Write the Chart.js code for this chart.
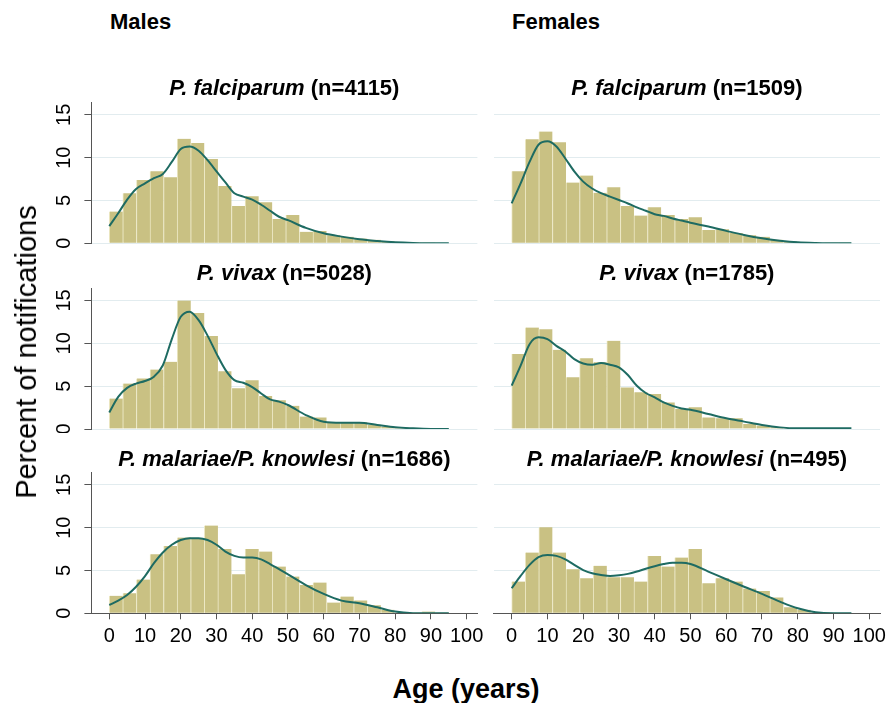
<!DOCTYPE html>
<html lang="en">
<head>
<meta charset="UTF-8">
<title>Age distribution of malaria notifications by sex and species</title>
<script src="https://cdn.jsdelivr.net/npm/chart.js@4.4.1/dist/chart.umd.min.js"></script>
<style>
  body { margin: 0; background: #fff; width: 886px; height: 703px; position: relative; overflow: hidden;
         font-family: "Liberation Sans", Arial, sans-serif; color: #000; }
  .txt { position: absolute; white-space: nowrap; }
  .head { font-size: 22px; font-weight: bold; }
  .ptitle { font-size: 22px; font-weight: bold; text-align: center; line-height: 26px; }
</style>
</head>
<body>
<script>
// ---- data ----
const xTicks = [0, 10, 20, 30, 40, 50, 60, 70, 80, 90, 100];
const yTicks = [0, 5, 10, 15];
const sexes = ['Males', 'Females'];
const species = ['P. falciparum', 'P. vivax', 'P. malariae/P. knowlesi'];
const maleN = [4115, 5028, 1686];
const femaleN = [1509, 1785, 495];

// histogram bins, 3.8 years wide starting at 0
const binCenters = [1.9, 5.7, 9.5, 13.3, 17.1, 20.9, 24.7, 28.5, 32.3, 36.1, 39.9, 43.7, 47.5,
                    51.3, 55.1, 58.9, 62.7, 66.5, 70.3, 74.1, 77.9, 81.7, 85.5, 89.3, 93.1];
const maleFalcBars = [3.7, 5.85, 7.4, 8.4, 7.7, 12.2, 11.7, 9.85, 6.7, 4.35, 5.5, 4.8, 2.85,
                      3.3, 1.35, 1.45, 0.95, 0.75, 0.55, 0.4, 0.25, 0.15, 0.1, 0.08, 0.05];
const femFalcBars = [8.4, 12.15, 13.05, 11.8, 7.1, 7.9, 5.9, 6.55, 4.35, 3.25, 4.2, 3.3, 2.85,
                     3.05, 1.55, 1.65, 1.2, 0.95, 0.75, 0.4, 0.2, 0.1, 0.05, 0.03, 0.02];
const maleVivBars = [3.55, 5.3, 5.9, 6.95, 7.85, 15.0, 13.55, 10.85, 6.75, 4.75, 5.7, 3.85, 3.35,
                     2.7, 1.45, 1.35, 0.78, 0.78, 0.78, 0.47, 0.27, 0.15, 0.1, 0.08, 0.04];
const femVivBars = [8.75, 11.85, 11.65, 9.25, 6.05, 8.25, 7.8, 10.3, 4.85, 4.3, 4.1, 3.1, 2.35,
                    2.55, 1.35, 1.25, 1.25, 0.58, 0.4, 0.2, 0.08, 0.08, 0.08, 0.03, 0.05];
const maleMalBars = [2.05, 2.35, 3.95, 6.9, 7.85, 8.85, 8.75, 10.25, 7.5, 4.55, 7.5, 7.2, 5.45,
                     4.3, 3.3, 3.6, 1.25, 1.95, 1.5, 0.95, 0.4, 0.08, 0.08, 0.2, 0.08];
const femMalBars = [3.7, 7.1, 10.05, 7.1, 5.15, 4.1, 5.55, 4.2, 4.2, 3.7, 6.7, 5.45, 6.5,
                    7.5, 3.5, 4.1, 3.7, 2.9, 2.6, 1.85, 0.7, 0.4, 0.08, 0.04, 0];

// kernel density curves (percent scale)
const curveAges = [0, 2.5, 5, 7.5, 10, 12.5, 15, 17.5, 20, 22.5, 25, 27.5, 30, 32.5, 35, 37.5,
                   40, 42.5, 45, 47.5, 50, 55, 60, 65, 70, 75, 80, 85, 90, 95];
const maleFalcCurve = [2.0, 3.5, 5.1, 6.35, 7.0, 7.6, 8.1, 9.5, 11.0, 11.3, 10.8, 9.7, 8.4, 7.1, 5.85,
                       5.45, 5.1, 4.5, 3.8, 3.1, 2.7, 1.8, 1.17, 0.78, 0.47, 0.27, 0.12, 0.04, 0.01, 0];
const femFalcCurve = [4.67, 7.0, 9.5, 11.5, 11.9, 11.3, 9.9, 8.4, 7.2, 6.4, 5.85, 5.45, 5.05, 4.65, 4.2,
                      3.8, 3.4, 3.2, 2.9, 2.65, 2.4, 1.95, 1.45, 0.97, 0.58, 0.31, 0.12, 0.04, 0.01, 0];
const maleVivCurve = [1.94, 3.76, 4.8, 5.3, 5.6, 6.1, 7.44, 10.5, 13.1, 13.7, 12.7, 10.9, 8.8, 6.9, 5.7,
                      5.4, 4.9, 4.15, 3.45, 3.2, 2.8, 1.63, 0.85, 0.74, 0.74, 0.47, 0.2, 0.08, 0.01, 0];
const femVivCurve = [5.06, 7.4, 9.9, 10.7, 10.5, 9.7, 9.05, 8.15, 7.65, 7.5, 7.7, 7.5, 7.2, 6.3, 5.05,
                     4.2, 3.7, 3.1, 2.7, 2.4, 2.25, 1.75, 1.25, 0.86, 0.47, 0.19, 0.08, 0.08, 0.08, 0.08];
const maleMalCurve = [0.97, 1.48, 2.14, 3.1, 4.35, 5.85, 7.1, 8.0, 8.55, 8.77, 8.77, 8.55, 8.0, 7.2, 6.7,
                      6.5, 6.5, 6.3, 5.75, 5.15, 4.55, 3.3, 2.26, 1.48, 1.17, 0.7, 0.2, 0.02, 0, 0];
const femMalCurve = [2.92, 4.36, 5.65, 6.55, 6.8, 6.7, 6.3, 5.65, 5.05, 4.67, 4.48, 4.36, 4.44, 4.6, 4.87,
                     5.2, 5.5, 5.75, 5.9, 5.9, 5.75, 4.87, 3.97, 3.1, 2.26, 1.36, 0.58, 0.12, 0, 0];

// ---- look ----
const FONT = '"Liberation Sans", Arial, sans-serif';
const BAR = '#c9c183';
const BAR_EDGE = '#ece8c4';
const CURVE = '#1e6b62';
const GRID = '#e2ecef';
const AXIS = '#555555';

// panel placement (page pixels)
const rows = [
  { divTop: 92, chartTop: 102.8, chartBottom: 243.3, titleY: 88 },
  { divTop: 278, chartTop: 288.5, chartBottom: 429, titleY: 273 },
  { divTop: 462, chartTop: 472.8, chartBottom: 613.3, titleY: 459 }
];
const cols = [
  { divLeft: 0, divWidth: 490, chartLeft: 91.4, chartRight: 477.4, headX: 110 },
  { divLeft: 480, divWidth: 406, chartLeft: 493.8, chartRight: 880, headX: 512 }
];

Chart.defaults.font.family = FONT;

function addText(html, cls, css) {
  const d = document.createElement('div');
  d.className = 'txt ' + cls;
  d.innerHTML = html;
  d.style.cssText = css;
  document.body.appendChild(d);
  return d;
}

function makePanel(r, c, bars, curve) {
  const R = rows[r], C = cols[c];
  const bottomRow = r === rows.length - 1;
  const leftCol = c === 0;
  const xAxisH = bottomRow ? 40 : 0;
  const divH = bottomRow ? 200 : Math.ceil(R.chartBottom - R.divTop + 4);

  const wrap = document.createElement('div');
  wrap.style.cssText = `position:absolute;left:${C.divLeft}px;top:${R.divTop}px;width:${C.divWidth}px;height:${divH}px;`;
  const cv = document.createElement('canvas');
  wrap.appendChild(cv);
  document.body.appendChild(wrap);

  const yW = leftCol ? C.chartLeft - C.divLeft : 0;

  new Chart(cv, {
    type: 'bar',
    data: {
      datasets: [
        {
          type: 'line',
          data: curveAges.map((a, i) => ({ x: a, y: curve[i] })),
          borderColor: CURVE,
          borderWidth: 2,
          pointRadius: 0,
          cubicInterpolationMode: 'monotone',
          order: 0
        },
        {
          type: 'bar',
          data: binCenters.map((m, i) => ({ x: m, y: bars[i] })),
          backgroundColor: BAR,
          borderColor: BAR_EDGE,
          borderWidth: { left: 1, top: 0, right: 0, bottom: 0 },
          barPercentage: 1,
          categoryPercentage: 1,
          order: 1
        }
      ]
    },
    options: {
      responsive: true,
      maintainAspectRatio: false,
      animation: false,
      events: [],
      layout: {
        padding: {
          left: leftCol ? 0 : C.chartLeft - C.divLeft,
          right: C.divLeft + C.divWidth - C.chartRight,
          top: R.chartTop - R.divTop,
          bottom: R.divTop + divH - R.chartBottom - xAxisH
        }
      },
      plugins: { legend: { display: false }, tooltip: { enabled: false } },
      scales: {
        x: {
          type: 'linear',
          offset: false,
          min: -5,
          max: 103,
          display: bottomRow,
          afterBuildTicks: s => { s.ticks = xTicks.map(v => ({ value: v })); },
          afterFit: s => { s.height = xAxisH; s.paddingLeft = 0; s.paddingRight = 0; },
          grid: { offset: false, drawOnChartArea: false, drawTicks: true, tickLength: 6, tickColor: AXIS, color: AXIS },
          border: { display: true, color: AXIS, width: 1 },
          ticks: { color: '#000', font: { size: 20 }, padding: 5, minRotation: 0, maxRotation: 0, autoSkip: false }
        },
        y: {
          min: 0,
          max: 16.4,
          afterBuildTicks: s => { s.ticks = yTicks.map(v => ({ value: v })); },
          afterFit: s => { s.width = yW; s.paddingTop = 0; s.paddingBottom = 0; },
          grid: { color: GRID, lineWidth: 1, drawTicks: leftCol, tickLength: 7, tickColor: AXIS },
          border: { display: leftCol, color: AXIS, width: 1 },
          ticks: {
            display: leftCol, color: '#000', font: { size: 20 },
            minRotation: 90, maxRotation: 90, crossAlign: 'center', padding: 9
          }
        }
      }
    }
  });

  // panel title
  const n = leftCol ? maleN[r] : femaleN[r];
  const w = C.chartRight - C.chartLeft;
  addText(`<i>${species[r]}</i> (n=${n})`, 'ptitle',
          `left:${C.chartLeft}px;top:${R.titleY - 13}px;width:${w}px;`);
}

const panels = [
  [maleFalcBars, maleFalcCurve, femFalcBars, femFalcCurve],
  [maleVivBars, maleVivCurve, femVivBars, femVivCurve],
  [maleMalBars, maleMalCurve, femMalBars, femMalCurve]
];
panels.forEach((p, r) => {
  makePanel(r, 0, p[0], p[1]);
  makePanel(r, 1, p[2], p[3]);
});

sexes.forEach((s, c) => addText(s, 'head', `left:${cols[c].headX}px;top:9px;line-height:26px;`));

addText('Percent of notifications', '',
  'left:26px;top:352px;font-size:29px;line-height:32px;transform:translate(-50%,-50%) rotate(-90deg);');
addText('Age (years)', '',
  'left:466px;top:689px;font-size:27px;font-weight:bold;line-height:30px;transform:translate(-50%,-50%);');
</script>
</body>
</html>
